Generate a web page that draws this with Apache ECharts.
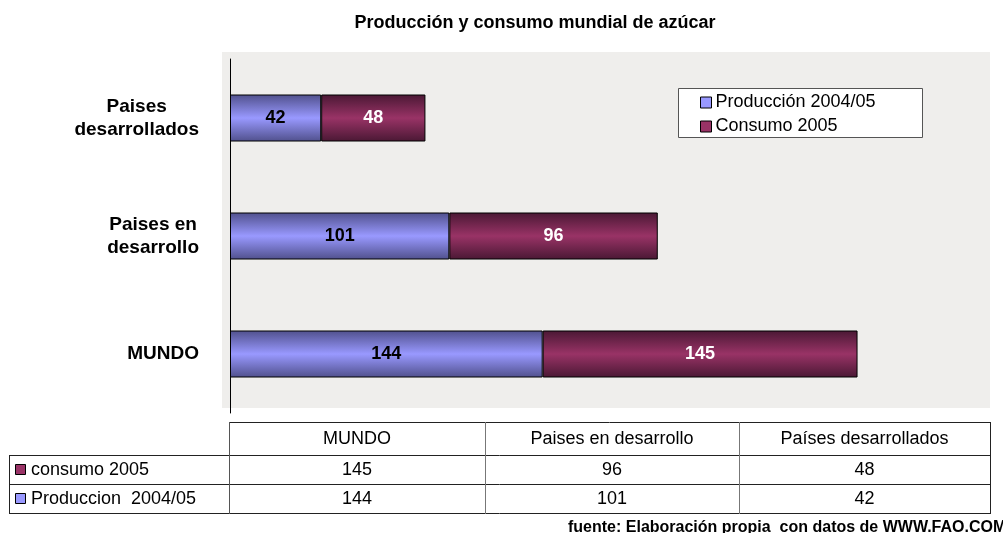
<!DOCTYPE html>
<html>
<head>
<meta charset="utf-8">
<script src="https://cdn.jsdelivr.net/npm/echarts@6/dist/echarts.min.js"></script>
<style>
  html, body { margin: 0; padding: 0; background: #fff; }
  #main { width: 1003px; height: 533px; }
</style>
</head>
<body>
<div id="main"></div>
<script>
// datos del grafico
var categories = ['MUNDO', 'Paises en\ndesarrollo', 'Paises\ndesarrollados'];
var produccion = [144, 101, 42];
var consumo = [145, 96, 48];
var seriesNames = ['Producción 2004/05', 'Consumo 2005'];

// tabla de datos de abajo
var tableHeaders = ['MUNDO', 'Paises en desarrollo', 'Países desarrollados'];
var tableRowNames = ['consumo 2005', 'Produccion  2004/05'];
var tableRows = [consumo, produccion];

var font = '"Liberation Sans", Arial, sans-serif';
var prodColor = '#9999ff';
var consColor = '#993366';

var myChart = echarts.init(document.getElementById('main'));

function barGradient(dark, light) {
  return new echarts.graphic.LinearGradient(0, 0, 0, 1, [
    { offset: 0, color: dark },
    { offset: 0.5, color: light },
    { offset: 1, color: dark }
  ]);
}

// tabla con graphic
var colEdges = [229, 485, 739, 990];
var rowEdges = [422, 455, 484, 513];
var tableLeft = 9;
var lines = [];
function hline(x1, x2, y) {
  lines.push({ type: 'line', shape: { x1: x1, y1: y + 0.5, x2: x2, y2: y + 0.5 }, style: { stroke: '#222', lineWidth: 1 } });
}
function vline(x, y1, y2, c) {
  lines.push({ type: 'line', shape: { x1: x + 0.5, y1: y1, x2: x + 0.5, y2: y2 }, style: { stroke: c || '#222', lineWidth: 1 } });
}
hline(colEdges[0], colEdges[3], rowEdges[0]);
hline(tableLeft, colEdges[3], rowEdges[1]);
hline(tableLeft, colEdges[3], rowEdges[2]);
hline(tableLeft, colEdges[3], rowEdges[3]);
vline(tableLeft, rowEdges[1], rowEdges[3] + 1);
vline(colEdges[0], rowEdges[0], rowEdges[3] + 1, '#555');
vline(colEdges[1], rowEdges[0], rowEdges[3] + 1, '#777');
vline(colEdges[2], rowEdges[0], rowEdges[3] + 1, '#777');
vline(colEdges[3], rowEdges[0], rowEdges[3] + 1);

var cellTexts = [];
tableHeaders.forEach(function (h, i) {
  cellTexts.push({
    type: 'text',
    style: {
      x: (colEdges[i] + colEdges[i + 1]) / 2, y: (rowEdges[0] + rowEdges[1]) / 2 + 1,
      text: h, font: '18px ' + font, fill: '#000', align: 'center', verticalAlign: 'middle'
    }
  });
});
tableRows.forEach(function (row, r) {
  var yc = (rowEdges[r + 1] + rowEdges[r + 2]) / 2 + 1;
  cellTexts.push({
    type: 'rect',
    shape: { x: 15.5, y: Math.round(yc) - 6.5, width: 10, height: 10 },
    style: { fill: r === 0 ? consColor : prodColor, stroke: '#000', lineWidth: 1 }
  });
  cellTexts.push({
    type: 'text',
    style: {
      x: 31, y: yc, text: tableRowNames[r], font: '18px ' + font, fill: '#000',
      align: 'left', verticalAlign: 'middle'
    }
  });
  row.forEach(function (v, i) {
    cellTexts.push({
      type: 'text',
      style: {
        x: (colEdges[i] + colEdges[i + 1]) / 2, y: yc, text: String(v),
        font: '18px ' + font, fill: '#000', align: 'center', verticalAlign: 'middle'
      }
    });
  });
});

var option = {
  animation: false,
  backgroundColor: '#fff',
  title: {
    text: 'Producción y consumo mundial de azúcar',
    left: 530,
    textAlign: 'center',
    top: 9,
    textStyle: { fontSize: 18, fontWeight: 'bold', color: '#000', fontFamily: font }
  },
  legend: {
    orient: 'vertical',
    left: 700,
    top: 92,
    itemWidth: 11,
    itemHeight: 11,
    itemGap: 3,
    padding: 0,
    textStyle: { fontSize: 18, lineHeight: 21, color: '#000', fontFamily: font, padding: [0, 0, 0, -1] },
    data: [
      { name: seriesNames[0], icon: 'rect', itemStyle: { color: prodColor, borderColor: '#000', borderWidth: 1 } },
      { name: seriesNames[1], icon: 'rect', itemStyle: { color: consColor, borderColor: '#000', borderWidth: 1 } }
    ]
  },
  grid: {
    left: 230,
    top: 59,
    width: 760,
    height: 354
  },
  xAxis: {
    type: 'value',
    min: 0,
    max: 350,
    show: false
  },
  yAxis: {
    type: 'category',
    data: categories,
    axisLine: { show: true, lineStyle: { color: '#000', width: 1 } },
    axisTick: { show: false },
    axisLabel: {
      margin: 31,
      align: 'right',
      formatter: function (value) {
        // cada linea centrada dentro del bloque
        return value.split('\n').map(function (l) { return '{c|' + l + '}'; }).join('\n');
      },
      rich: {
        c: { align: 'center', fontSize: 19, fontWeight: 'bold', color: '#000', fontFamily: font, lineHeight: 23 }
      }
    }
  },
  graphic: [
    {
      type: 'rect', z: -10, silent: true,
      shape: { x: 222, y: 52, width: 768, height: 356 },
      style: { fill: '#efeeec' }
    },
    {
      type: 'rect', z: -5, silent: true,
      shape: { x: 678.5, y: 88.5, width: 244, height: 49 },
      style: { fill: '#fff', stroke: '#555', lineWidth: 1 }
    },
    {
      type: 'group', children: lines.concat(cellTexts)
    },
    {
      type: 'text',
      style: {
        x: 568, y: 520, text: 'fuente: Elaboración propia  con datos de WWW.FAO.COM',
        font: 'bold 16px ' + font, fill: '#000', verticalAlign: 'top'
      }
    }
  ],
  series: [
    {
      name: seriesNames[0],
      type: 'bar',
      stack: 'total',
      barWidth: 47,
      itemStyle: { color: barGradient('#50508c', prodColor), borderColor: '#000', borderWidth: 1 },
      label: {
        show: true, position: 'inside', color: '#000', fontWeight: 'bold', fontSize: 18, fontFamily: font
      },
      data: produccion
    },
    {
      name: seriesNames[1],
      type: 'bar',
      stack: 'total',
      barWidth: 47,
      itemStyle: { color: barGradient('#4a1834', consColor), borderColor: '#000', borderWidth: 1 },
      label: {
        show: true, position: 'inside', color: '#fff', fontWeight: 'bold', fontSize: 18, fontFamily: font
      },
      data: consumo
    }
  ]
};
option && myChart.setOption(option);
</script>
</body>
</html>
